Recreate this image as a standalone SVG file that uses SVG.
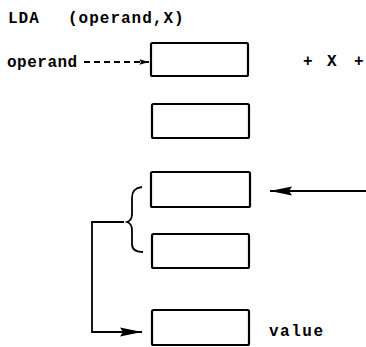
<svg xmlns="http://www.w3.org/2000/svg" width="366" height="347" viewBox="0 0 366 347">
<style>
  .t { font-family: "Liberation Mono", "DejaVu Sans Mono", monospace; font-size: 16px; font-weight: bold; letter-spacing: 1px; fill: #000; }
  .box { fill: #fff; stroke: #000; stroke-width: 2.2; }
  .ln { fill: none; stroke: #000; stroke-width: 1.8; }
</style>
<defs>
  <marker id="ah" viewBox="0 0 12 10" refX="12" refY="5" markerWidth="12" markerHeight="8" markerUnits="userSpaceOnUse" orient="auto">
    <path d="M0,1.5 L12,5 L0,8.5 L2,5 Z" fill="#000"/>
  </marker>
  <marker id="ahl" viewBox="0 0 22 10" refX="22" refY="5" markerWidth="22" markerHeight="10" markerUnits="userSpaceOnUse" orient="auto">
    <path d="M0,0.5 L22,5 L0,9.5 L3,5 Z" fill="#000"/>
  </marker>
</defs>
<g id="title">
  <text class="t" x="8" y="23">LDA</text>
  <text class="t" x="68" y="23">(operand,X)</text>
</g>
<g id="operand-label"><text class="t" x="7" y="67" style="letter-spacing:0.5px">operand</text></g>
<g id="plusx">
  <text class="t" x="303" y="66">+</text>
  <text class="t" x="327" y="66">X</text>
  <text class="t" x="354" y="66">+</text>
</g>
<g id="value-label"><text class="t" x="269" y="336" style="letter-spacing:1.5px">value</text></g>
<g id="box1"><rect class="box" x="151" y="43" width="97" height="33" rx="1.5"/></g>
<g id="box2"><rect class="box" x="152" y="104" width="97" height="34" rx="1.5"/></g>
<g id="box3"><rect class="box" x="151" y="172" width="99" height="35" rx="1.5"/></g>
<g id="box4"><rect class="box" x="152" y="234" width="97" height="34" rx="1.5"/></g>
<g id="box5"><rect class="box" x="152" y="310" width="97" height="35" rx="1.5"/></g>
<g id="connectors">
  <line class="ln" x1="84" y1="62" x2="149" y2="62" stroke-dasharray="6,4" marker-end="url(#ah)"/>
  <line class="ln" x1="366" y1="191" x2="270" y2="191" stroke-width="2" marker-end="url(#ahl)"/>
  <path class="ln" d="M124,222 H92 V332 H142" marker-end="url(#ahl)"/>
  <path class="ln" d="M142,187 C135,188 132,191 132,198 V214 C132,219 130,221 127,222 C130,223 132,225 132,230 V244 C132,249 135,252 143,252"/>
</g>
</svg>
